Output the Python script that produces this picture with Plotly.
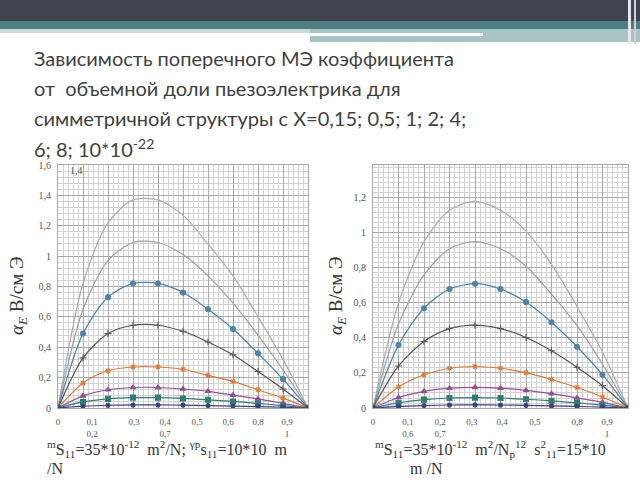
import plotly.graph_objects as go

# ---------------- data ----------------
x_vals = [0, 0.1, 0.2, 0.3, 0.4, 0.5, 0.6, 0.7, 0.8, 0.9, 1.0]
series_names = ["X=10", "X=8", "X=6", "X=4", "X=2", "X=1", "X=0.5", "X=0.15"]

left_vals = [
    [0, 0.82, 1.22, 1.37, 1.37, 1.27, 1.08, 0.87, 0.60, 0.32, 0],
    [0, 0.65, 0.97, 1.09, 1.09, 1.01, 0.87, 0.69, 0.48, 0.25, 0],
    [0, 0.49, 0.73, 0.82, 0.82, 0.76, 0.65, 0.52, 0.36, 0.19, 0],
    [0, 0.33, 0.49, 0.545, 0.545, 0.505, 0.435, 0.35, 0.24, 0.125, 0],
    [0, 0.165, 0.245, 0.27, 0.27, 0.255, 0.215, 0.175, 0.12, 0.065, 0],
    [0, 0.08, 0.12, 0.135, 0.135, 0.125, 0.11, 0.085, 0.06, 0.03, 0],
    [0, 0.04, 0.06, 0.068, 0.068, 0.063, 0.054, 0.043, 0.03, 0.016, 0],
    [0, 0.012, 0.018, 0.02, 0.02, 0.019, 0.016, 0.013, 0.009, 0.005, 0],
]
right_vals = [
    [0, 0.60, 0.95, 1.13, 1.18, 1.13, 1.01, 0.82, 0.58, 0.32, 0],
    [0, 0.48, 0.76, 0.91, 0.95, 0.91, 0.81, 0.65, 0.47, 0.25, 0],
    [0, 0.36, 0.57, 0.68, 0.71, 0.68, 0.605, 0.49, 0.35, 0.19, 0],
    [0, 0.24, 0.38, 0.453, 0.473, 0.453, 0.403, 0.327, 0.233, 0.127, 0],
    [0, 0.12, 0.19, 0.227, 0.237, 0.227, 0.202, 0.163, 0.117, 0.063, 0],
    [0, 0.06, 0.095, 0.113, 0.118, 0.113, 0.101, 0.082, 0.058, 0.032, 0],
    [0, 0.03, 0.048, 0.057, 0.059, 0.057, 0.05, 0.041, 0.029, 0.016, 0],
    [0, 0.009, 0.014, 0.017, 0.018, 0.017, 0.015, 0.012, 0.009, 0.005, 0],
]

left_ytick_vals = [0, 0.2, 0.4, 0.6, 0.8, 1.0, 1.2, 1.4, 1.6]
left_ytick_text = ["0", "0,2", "0,4", "0,6", "0,8", "1", "1,2", "1,4", "1,6"]
right_ytick_vals = [0, 0.2, 0.4, 0.6, 0.8, 1.0, 1.2]
right_ytick_text = ["0", "0,2", "0,4", "0,6", "0,8", "1", "1,2"]

left_xtick_text = ["0", "0,1<br>0,2", "0,3", "0,4<br>0,7", "0,5", "0,6", "0,8", "0,9<br>1"]
right_xtick_text = ["0", "0,1<br>0,6", "0,2<br>0,7", "0,3", "0,4", "0,5", "0,8", "0,9<br>1"]

title_lines = [
    "Зависимость поперечного МЭ коэффициента",
    "от  объемной доли пьезоэлектрика для",
    "симметричной структуры с X=0,15; 0,5; 1; 2; 4;",
    "6; 8; 10*10<sup>-22</sup>",
]

# ---------------- layout / style ----------------
W, H = 640, 480
left_xtick_pos = [0, 0.136, 0.304, 0.428, 0.556, 0.68, 0.80, 0.916]
right_xtick_pos = [0, 0.137, 0.263, 0.388, 0.506, 0.635, 0.80, 0.918]

styles = [
    dict(color="#adadad", symbol="circle", size=0),
    dict(color="#a0a0a0", symbol="circle", size=0),
    dict(color="#4a83ad", symbol="circle", size=5),
    dict(color="#555555", symbol="cross-thin-open", size=5),
    dict(color="#e07a36", symbol="asterisk-open", size=5),
    dict(color="#9a4c98", symbol="triangle-up", size=5),
    dict(color="#2f7d72", symbol="square", size=5),
    dict(color="#3e3e88", symbol="circle", size=4),
]

def px_x(p):
    return p / W

def px_y(p):
    return 1 - p / H

fig = go.Figure()

def add_series(vals, xa, ya):
    for name, v, st in zip(series_names, vals, styles):
        fig.add_trace(go.Scatter(
            x=x_vals, y=v, name=name, xaxis=xa, yaxis=ya,
            mode="lines+markers" if st["size"] > 0 else "lines",
            line=dict(color=st["color"], width=1.2, shape="spline", smoothing=0.8),
            marker=dict(color=st["color"], symbol=st["symbol"], size=st["size"],
                        line=dict(color=st["color"], width=1.1)),
            showlegend=False, hoverinfo="skip",
        ))

add_series(left_vals, "x", "y")
add_series(right_vals, "x2", "y2")
# invisible anchors for label-only overlay axes
fig.add_trace(go.Scatter(x=[0], y=[0], xaxis="x3", yaxis="y", mode="markers",
                         marker=dict(opacity=0), showlegend=False, hoverinfo="skip"))
fig.add_trace(go.Scatter(x=[0], y=[0], xaxis="x4", yaxis="y2", mode="markers",
                         marker=dict(opacity=0), showlegend=False, hoverinfo="skip"))

tick_font = dict(family="Liberation Serif, DejaVu Serif, serif", size=10, color="#555555")
xtick_font = dict(family="Liberation Serif, DejaVu Serif, serif", size=9, color="#555555")
grid_major = "#a8a8a8"
grid_minor = "#d2d2d2"

def grid_x(domain, anchor):
    return dict(domain=domain, range=[0, 1], anchor=anchor, dtick=0.1, tick0=0,
                showgrid=True, gridcolor=grid_major, gridwidth=1,
                minor=dict(dtick=0.02, showgrid=True, gridcolor=grid_minor, gridwidth=1),
                showticklabels=False, ticks="", zeroline=False,
                showline=True, linecolor=grid_major, mirror=True, automargin=False)

def label_x(over, anchor, pos, text):
    return dict(overlaying=over, anchor=anchor, range=[0, 1], tickmode="array",
                tickvals=pos, ticktext=text, showgrid=False, zeroline=False,
                ticks="", ticklen=0, tickfont=xtick_font, automargin=False,
                showline=False, side="bottom", ticklabelstandoff=7)

def grid_y(domain, anchor, rng, minor_dt, tv, tt):
    return dict(domain=domain, range=rng, anchor=anchor, tickmode="array",
                tickvals=tv, ticktext=tt, showgrid=True, gridcolor=grid_major,
                minor=dict(dtick=minor_dt, tick0=0, showgrid=True, gridcolor=grid_minor),
                ticks="", tickfont=tick_font, zeroline=True, zerolinecolor="#4a4a8e",
                zerolinewidth=4, showline=True, linecolor=grid_major, mirror=True,
                automargin=False, ticklabelstandoff=4)

ydom = [px_y(408), px_y(165)]
fig.update_layout(
    width=W, height=H, margin=dict(l=0, r=0, t=0, b=0),
    paper_bgcolor="white", plot_bgcolor="white", template="none",
    xaxis=grid_x([px_x(58), px_x(308)], "y"),
    xaxis2=grid_x([px_x(373), px_x(628)], "y2"),
    xaxis3=label_x("x", "y", left_xtick_pos, left_xtick_text),
    xaxis4=label_x("x2", "y2", right_xtick_pos, right_xtick_text),
    yaxis=grid_y(ydom, "x", [0, 1.6], 0.04, left_ytick_vals, left_ytick_text),
    yaxis2=grid_y(ydom, "x2", [0, 1.388], 0.2 / 7, right_ytick_vals, right_ytick_text),
)

# header bands
shapes = [
    dict(type="rect", x0=0, x1=1, y0=px_y(21), y1=1, fillcolor="#41434f", line_width=0),
    dict(type="rect", x0=0, x1=1, y0=px_y(29), y1=px_y(21), fillcolor="#4c7f80", line_width=0),
    dict(type="rect", x0=0, x1=px_x(310), y0=px_y(33), y1=px_y(29), fillcolor="#c9d9d9", line_width=0),
    dict(type="rect", x0=px_x(310), x1=1, y0=px_y(42), y1=px_y(29), fillcolor="#a9c4c4", line_width=0),
    dict(type="rect", x0=0, x1=px_x(483), y0=px_y(36), y1=px_y(33), fillcolor="#ffffff", line_width=0),
    dict(type="rect", x0=px_x(628), x1=px_x(631), y0=px_y(44), y1=1, fillcolor="#e8e8e8", line_width=0),
    dict(type="rect", x0=px_x(634), x1=px_x(636), y0=px_y(44), y1=1, fillcolor="#d0d0d0", line_width=0),
]
for s in shapes:
    s.update(xref="paper", yref="paper", layer="below")
fig.update_layout(shapes=shapes)

title_font = dict(family="Lato, Liberation Sans, sans-serif", size=20, color="#3f3f3f")
title_y = [58, 88, 118, 148]
for t, yy in zip(title_lines, title_y):
    fig.add_annotation(text=t, x=px_x(32), y=px_y(yy), xref="paper", yref="paper",
                       xanchor="left", yanchor="middle", showarrow=False, font=title_font)

axis_title = "<i>α<sub>E</sub></i> В/см Э"
serif = "Liberation Serif, DejaVu Serif, serif"
for xx in [18, 337]:
    fig.add_annotation(text=axis_title, x=px_x(xx), y=px_y(296), xref="paper", yref="paper",
                       xanchor="center", yanchor="middle", textangle=-90, showarrow=False,
                       font=dict(family=serif, size=19, color="#333333"))

fig.add_annotation(text="1,4", x=px_x(68), y=px_y(171), xref="paper", yref="paper",
                   xanchor="left", yanchor="middle", showarrow=False, font=tick_font)

bottom_font = dict(family=serif, size=16, color="#333333")
bottom_texts = [
    ("<sup>m</sup>S<sub>11</sub>=35*10<sup>-12</sup>  m<sup>2</sup>/N; <sup>γp</sup>s<sub>11</sub>=10*10  m", 45, 449),
    ("/N", 45, 468),
    ("<sup>m</sup>S<sub>11</sub>=35*10<sup>-12</sup>  m<sup>2</sup>/N<sub>p</sub><sup>12</sup>  s<sup>2</sup><sub>11</sub>=15*10", 373, 449),
    ("m /N", 408, 468),
]
for t, xx, yy in bottom_texts:
    fig.add_annotation(text=t, x=px_x(xx), y=px_y(yy), xref="paper", yref="paper",
                       xanchor="left", yanchor="middle", showarrow=False, font=bottom_font)

fig.write_html("out.html")
